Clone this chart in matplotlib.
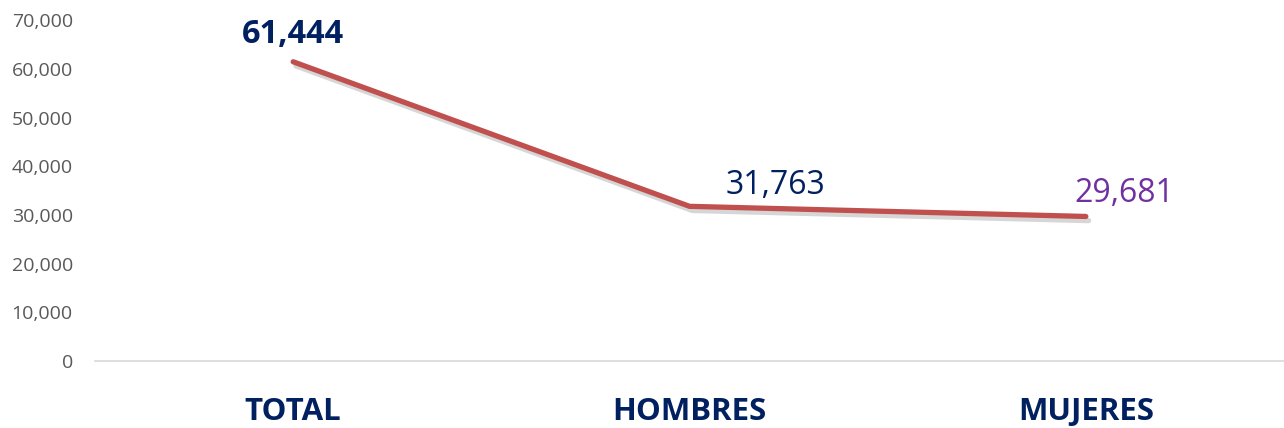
import matplotlib
matplotlib.use('Agg')
import matplotlib.pyplot as plt
import matplotlib.patheffects as pe
from matplotlib.ticker import FuncFormatter

categorias = ['TOTAL', 'HOMBRES', 'MUJERES']
valores = [61444, 31763, 29681]
etiquetas = ['61,444', '31,763', '29,681']

plt.rcParams['font.family'] = ['Open Sans', 'DejaVu Sans']

fig = plt.figure(figsize=(12.84, 4.28), dpi=100)
ax = fig.add_axes([0.074, 0.1565, 0.926, 0.7965])

x = range(len(categorias))
ax.plot(x, valores, color='#C0504D', linewidth=3.8, solid_capstyle='round',
        solid_joinstyle='miter',
        path_effects=[pe.SimpleLineShadow(offset=(2, -3), shadow_color='#8c8c8c', alpha=0.35),
                      pe.Normal()])

# etiquetas de datos
ax.annotate(etiquetas[0], (0, valores[0]), xytext=(0, 8), textcoords='offset points',
            ha='center', va='bottom', fontsize=23.5, fontweight='bold', color='#002060')
ax.annotate(etiquetas[1], (1, valores[1]), xytext=(62, 3), textcoords='offset points',
            ha='center', va='bottom', fontsize=23, color='#002060')
ax.annotate(etiquetas[2], (2, valores[2]), xytext=(28, 5), textcoords='offset points',
            ha='center', va='bottom', fontsize=23, color='#7030A0')

ax.set_xlim(-0.5, 2.5)
ax.set_ylim(0, 70000)
ax.set_yticks(range(0, 70001, 10000))
ax.yaxis.set_major_formatter(FuncFormatter(lambda v, p: f'{int(v):,}'))
ax.set_xticks(list(x))
ax.set_xticklabels(categorias, fontsize=22.5, fontweight='bold', color='#002060')

for s in ['top', 'right', 'left']:
    ax.spines[s].set_visible(False)
ax.spines['bottom'].set_color('#D9D9D9')
ax.spines['bottom'].set_linewidth(1.2)
ax.tick_params(axis='y', length=0, labelsize=14, labelcolor='#595959', pad=16)
ax.tick_params(axis='x', length=0, pad=26)

fig.savefig('out.png', dpi=100)
